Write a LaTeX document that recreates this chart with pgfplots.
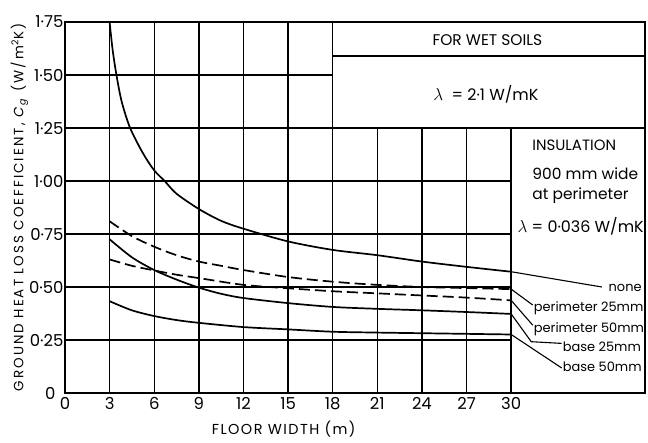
\documentclass[border=0pt]{standalone}
\usepackage{pgfplots}
\pgfplotsset{compat=1.18}
\usepackage{fontspec}
\setmainfont{Poppins}
\newfontfamily\spacedfont[LetterSpace=15]{Poppins}
\newfontfamily\xlabfont[LetterSpace=10]{Poppins}
\newcommand\tl{\fontsize{16.5}{16.5}\selectfont}

% Ground heat loss coefficient of a floor on wet soil, by floor width
\pgfplotstableread{
x y
3.0 1.75
3.2 1.62
3.46 1.50
3.81 1.375
4.38 1.25
5.25 1.13
6.0 1.05
6.7 1.00
7.5 0.94
9.0 0.868
10.5 0.812
12.0 0.775
15.0 0.715
18.0 0.675
21.0 0.650
24.0 0.620
27.0 0.595
30.0 0.572
}\none
\pgfplotstableread{
x y
3.0 0.81
4.5 0.74
6.0 0.69
7.5 0.65
9.0 0.62
10.5 0.60
12.0 0.58
15.0 0.547
18.0 0.525
21.0 0.51
24.0 0.50
27.0 0.495
30.0 0.49
}\perimA
\pgfplotstableread{
x y
3.0 0.63
4.5 0.60
6.0 0.578
7.5 0.558
9.0 0.542
12.0 0.51
15.0 0.494
18.0 0.48
21.0 0.47
24.0 0.46
27.0 0.45
30.0 0.437
}\perimB
\pgfplotstableread{
x y
3.0 0.725
4.5 0.64
6.0 0.58
7.5 0.535
9.0 0.497
10.5 0.468
12.0 0.448
15.0 0.424
18.0 0.406
21.0 0.397
24.0 0.39
27.0 0.382
30.0 0.373
}\baseA
\pgfplotstableread{
x y
3.0 0.433
4.5 0.39
6.0 0.363
7.5 0.344
9.0 0.331
12.0 0.311
15.0 0.30
18.0 0.289
21.0 0.285
24.0 0.282
27.0 0.279
30.0 0.276
}\baseB

\begin{document}
\begin{tikzpicture}
\useasboundingbox (-65bp,-50bp) rectangle (583bp,393bp);
\begin{axis}[
  at={(0,0)}, anchor=south west,
  scale only axis, width=580bp, height=371bp,
  xmin=0, xmax=39, ymin=0, ymax=1.75,
  axis line style={line width=1.8bp},
  xtick={0,3,...,30},
  xticklabels={{\tl 0},{\tl 3},{\tl 6},{\tl 9},{\tl 12},{\tl 15},{\tl 18},{\tl 21},{\tl 24},{\tl 27},{\tl 30}},
  ytick={0,0.25,0.5,0.75,1,1.25,1.5,1.75},
  yticklabels={{\tl 0\hspace*{8bp}},{\tl 0·25},{\tl 0·50},{\tl 0·75},{\tl 1·00},{\tl 1·25},{\tl 1·50},{\tl 1·75}},
  major tick length=0pt,
  xticklabel style={yshift=-1bp},
  yticklabel style={xshift=2bp},
  xlabel={FLOOR WIDTH (m)},
  xlabel style={at={(ticklabel cs:0.377)}, anchor=north, font=\xlabfont\fontsize{14.5}{15}\selectfont, yshift=-4bp},
  ylabel={GROUND HEAT LOSS COEFFICIENT, \textit{C}\textsubscript{\textit{g}} (W/m\textsuperscript{2}K)},
  ylabel style={font=\spacedfont\fontsize{13.5}{14}\selectfont, yshift=-6bp},
  clip=false,
]
% grid, interrupted by the two text panels
\draw[line width=1.4bp]
  (axis cs:3,0) -- (axis cs:3,1.75)
  (axis cs:6,0) -- (axis cs:6,1.75)
  (axis cs:9,0) -- (axis cs:9,1.75)
  (axis cs:12,0) -- (axis cs:12,1.75)
  (axis cs:15,0) -- (axis cs:15,1.75)
  (axis cs:18,0) -- (axis cs:18,1.75)
  (axis cs:21,0) -- (axis cs:21,1.25)
  (axis cs:24,0) -- (axis cs:24,1.25)
  (axis cs:27,0) -- (axis cs:27,1.25)
  (axis cs:30,0) -- (axis cs:30,1.25)
  (axis cs:0,0.25) -- (axis cs:30,0.25)
  (axis cs:0,0.5) -- (axis cs:30,0.5)
  (axis cs:0,0.75) -- (axis cs:30,0.75)
  (axis cs:0,1.0) -- (axis cs:30,1.0)
  (axis cs:0,1.25) -- (axis cs:39,1.25)
  (axis cs:0,1.5) -- (axis cs:18,1.5)
  (axis cs:18,1.59) -- (axis cs:39,1.59);

\addplot[black, line width=1.7bp, smooth] table {\none};
\addplot[black, line width=1.7bp, smooth, dash pattern=on 11bp off 5bp] table {\perimA};
\addplot[black, line width=1.7bp, smooth, dash pattern=on 11bp off 5bp] table {\perimB};
\addplot[black, line width=1.7bp, smooth] table {\baseA};
\addplot[black, line width=1.7bp, smooth] table {\baseB};

% panel texts
\node[font=\fontsize{15.5}{16}\selectfont] at (axis cs:28.4,1.665) {FOR WET SOILS};
\node[font=\fontsize{16}{16}\selectfont] at (axis cs:28.3,1.41) {$\lambda$\ \ = 2·1 W/mK};
\node[anchor=west, font=\fontsize{15}{15}\selectfont, inner sep=1bp] at (axis cs:31.35,1.17) {INSULATION};
\node[anchor=west, font=\fontsize{15.5}{16}\selectfont, inner sep=1bp] at (axis cs:31.35,1.035) {900 mm wide};
\node[anchor=west, font=\fontsize{15.5}{16}\selectfont, inner sep=1bp] at (axis cs:31.35,0.93) {at perimeter};
\node[anchor=east, font=\fontsize{16}{16}\selectfont, inner sep=1bp] at (axis cs:39,0.785) {$\lambda$ = 0·036 W/mK};

% curve names with leader lines
\draw[line width=1.1bp]
  (axis cs:30,0.572) -- (axis cs:36.1,0.50)
  (axis cs:30,0.49) -- (axis cs:31.45,0.415)
  (axis cs:30,0.437) -- (axis cs:31.45,0.32)
  (axis cs:30,0.373) -- (axis cs:31.35,0.242) -- (axis cs:33.4,0.234)
  (axis cs:30,0.276) -- (axis cs:33.4,0.118);
\node[anchor=east, font=\fontsize{13}{13}\selectfont, inner sep=1bp] at (axis cs:38.85,0.495) {none};
\node[anchor=west, font=\fontsize{13}{13}\selectfont, inner sep=1bp] at (axis cs:31.45,0.40) {perimeter 25mm};
\node[anchor=west, font=\fontsize{13}{13}\selectfont, inner sep=1bp] at (axis cs:31.45,0.30) {perimeter 50mm};
\node[anchor=west, font=\fontsize{13}{13}\selectfont, inner sep=1bp] at (axis cs:33.4,0.217) {base 25mm};
\node[anchor=west, font=\fontsize{13}{13}\selectfont, inner sep=1bp] at (axis cs:33.4,0.123) {base 50mm};
\end{axis}
\end{tikzpicture}
\end{document}
